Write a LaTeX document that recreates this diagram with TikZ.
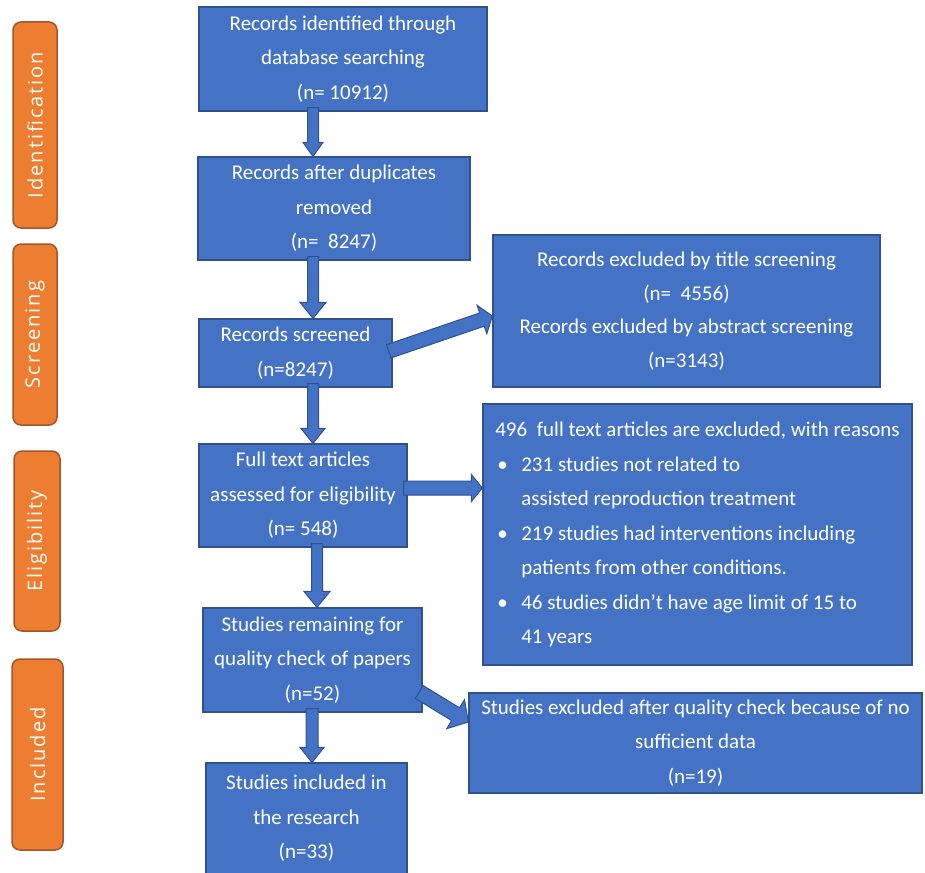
\documentclass[tikz,border=0pt]{standalone}
\usepackage{fontspec}
\setmainfont{Carlito}
\newfontfamily\tabfont[LetterSpace=10]{Open Sans}
\usetikzlibrary{calc}
\definecolor{boxblue}{HTML}{4472C4}
\definecolor{boxedge}{HTML}{2F528F}
\definecolor{taborange}{HTML}{ED7D31}
\definecolor{tabedge}{HTML}{A0582A}
\def\blockarrow(#1)(#2)[#3:#4:#5]{\filldraw[arrowbody] let \p1=(#1), \p2=(#2), \n1={atan2(\y2-\y1,\x2-\x1)}, \n2={veclen(\x2-\x1,\y2-\y1)} in {[shift={(\p1)}, rotate=\n1] (-4pt,-#3pt) -- ({\n2-#5pt},-#3pt) -- ({\n2-#5pt},-#4pt) -- ({\n2+0pt},0pt) -- ({\n2-#5pt},#4pt) -- ({\n2-#5pt},#3pt) -- (-4pt,#3pt) -- cycle};}
\def\bulitem{\makebox[26pt][l]{\hspace{2pt}\textbullet}}

\begin{document}
\begin{tikzpicture}[x=1pt, y=-1pt,
		fbox/.style={draw=boxedge, fill=boxblue, line width=1.2pt, text=white, inner sep=0pt, align=center, font=\fontsize{21}{34.5}\selectfont},
		tab/.style={draw=tabedge, fill=taborange, line width=1.5pt, rounded corners=8pt, rotate=90, text=white, inner sep=0pt, font=\tabfont\fontsize{20}{22}\selectfont},
		arrowbody/.style={fill=boxblue, draw=boxedge, line width=1pt, line join=miter}]
			%%%%% START %%%%%
			
			\useasboundingbox (0,0) rectangle (925,872);
			
			% stage tabs
			\node[tab, minimum width=206pt, minimum height=44pt] (tid) at (35,125) {Identification};
			\node[tab, minimum width=181pt, minimum height=44pt] (tsc) at (35,334.5) {Screening};
			\node[tab, minimum width=180pt, minimum height=46pt] (tel) at (37,541) {Eligibility};
			\node[tab, minimum width=191pt, minimum height=51pt] (tin) at (37.5,754.5) {Included};
			
			% main column
			\node[fbox, minimum width=288pt, minimum height=104pt] (rec) at (343,59) {Records identified through\\database searching\\(n= 10912)};
			\node[fbox, minimum width=272pt, minimum height=103pt] (dup) at (334,208.5) {Records after duplicates\\removed\\(n=\ \ 8247)};
			\node[fbox, minimum width=193pt, minimum height=68pt] (scr) at (295.5,353) {Records screened\\(n=8247)};
			\node[fbox, minimum width=208pt, minimum height=103pt] (full) at (303,495.5) {Full text articles\\assessed for eligibility\\(n= 548)};
			\node[fbox, minimum width=219pt, minimum height=104pt] (qual) at (312.5,660) {Studies remaining for\\quality check of papers\\(n=52)};
			\node[fbox, minimum width=201pt, minimum height=111pt] (inc) at (306.5,818.5) {Studies included in\\the research\\(n=33)};
			
			% exclusions
			\node[fbox, minimum width=387pt, minimum height=152pt, font=\fontsize{21}{33.5}\selectfont] (exc) at (686.5,311) {Records excluded by title screening\\(n=\ \ 4556)\\Records excluded by abstract screening\\(n=3143)};
			\node[fbox, minimum width=429pt, minimum height=261pt, align=left] (rsn) at (697.5,534.5) {496\ \ full text articles are excluded, with reasons\\
				\bulitem 231 studies not related to\\
				\hspace*{26pt}assisted reproduction treatment\\
				\bulitem 219 studies had interventions including\\
				\hspace*{26pt}patients from other conditions.\\
				\bulitem 46 studies didn't have age limit of 15 to\\
				\hspace*{26pt}41 years};
			\node[fbox, minimum width=453pt, minimum height=100pt] (noq) at (695.5,743) {Studies excluded after quality check because of no\\sufficient data\\(n=19)};
			
			% arrows
			\blockarrow(rec.south -| 313,0)(dup.north -| 313,0)[5.5:10:14]
			\blockarrow(dup.south -| 313,0)(scr.north -| 313,0)[5.5:13:16]
			\blockarrow(scr.south -| 313,0)(full.north -| 313,0)[5.5:12:15]
			\blockarrow(full.south -| 317,0)(qual.north -| 317,0)[5.5:13:16]
			\blockarrow(qual.south -| 312,0)(inc.north -| 312,0)[6:12:15]
			
			\blockarrow([yshift=3pt]scr.east)([yshift=-5pt]exc.west)[7:15:11]
			\blockarrow(full.east |- 0,488)(rsn.west |- 0,488)[7:13.5:11]
			\blockarrow([yshift=-34pt]qual.east)([yshift=21pt]noq.west)[7.5:17:15]
			
			%%%%% END %%%%%
		\end{tikzpicture}
\end{document}
